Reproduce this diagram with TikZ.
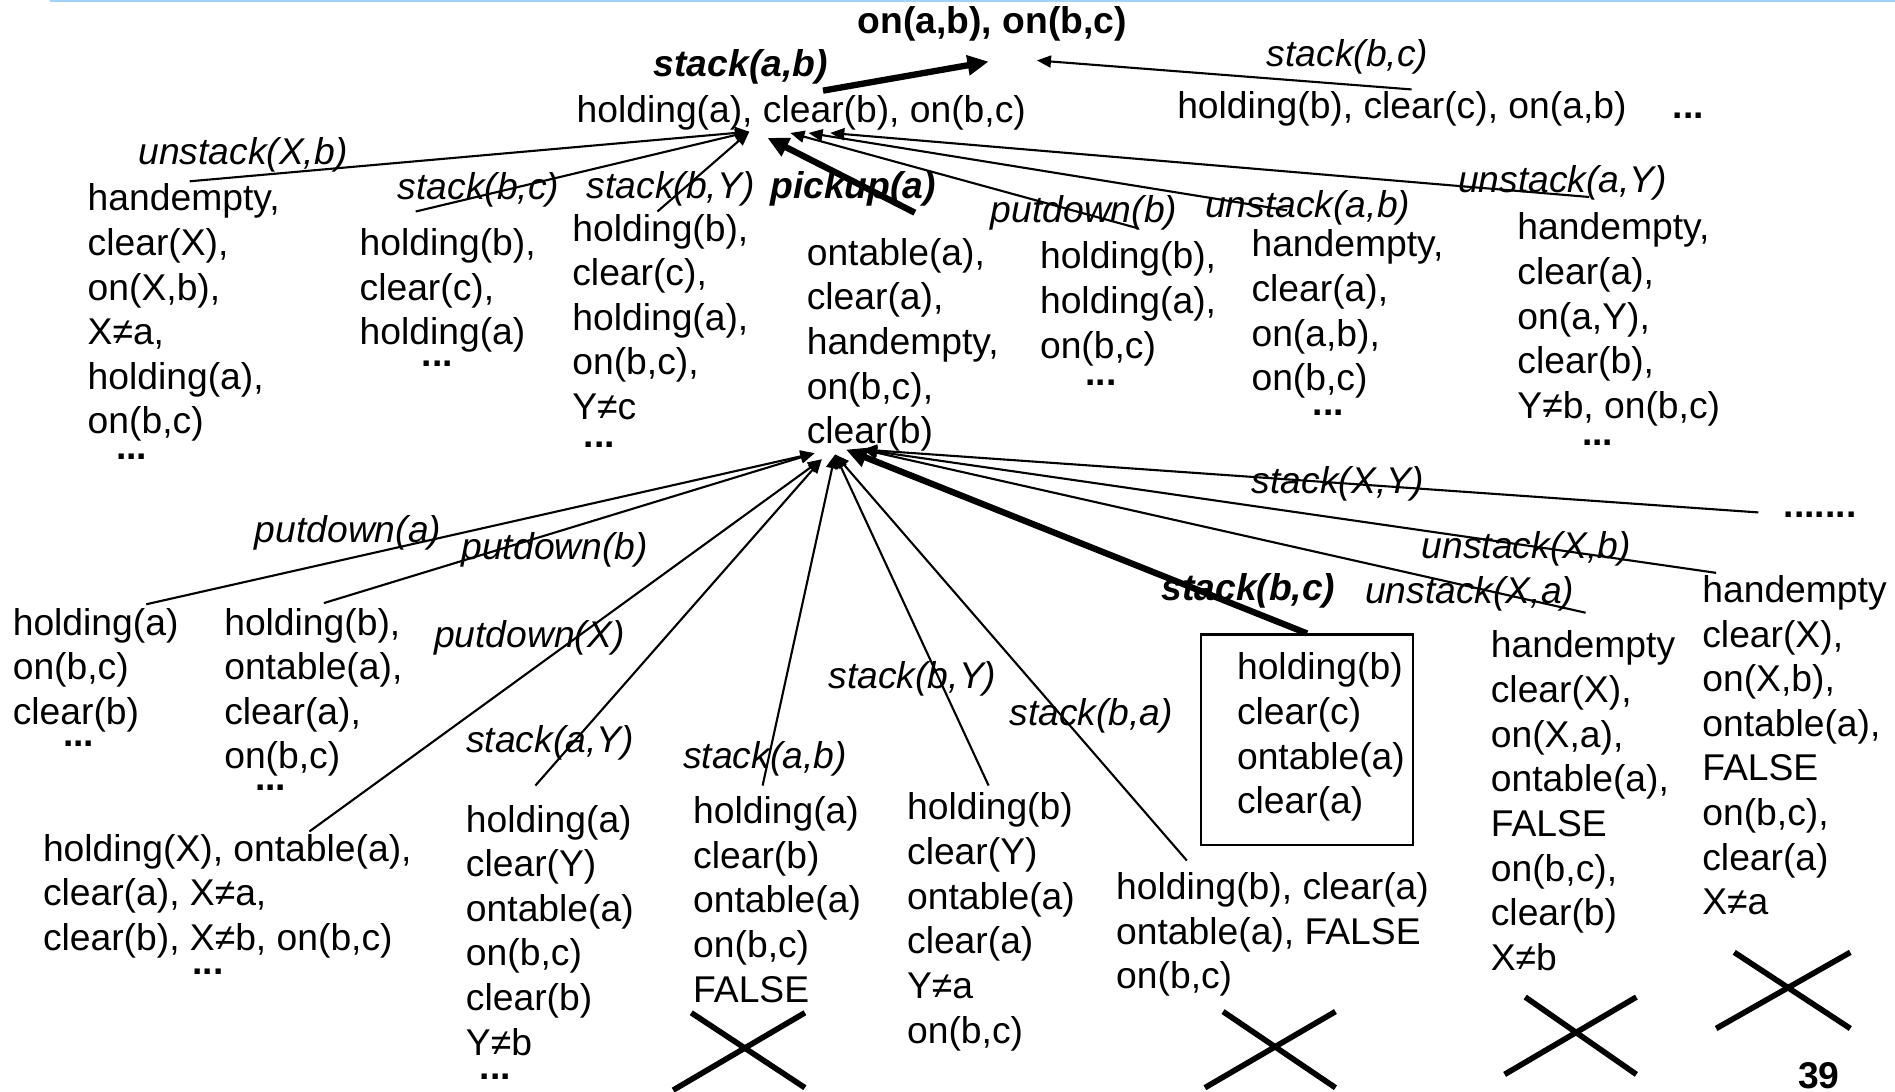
\documentclass[tikz,border=0pt]{standalone}
\usepackage{fontspec}
\setmainfont{Liberation Sans}
\usetikzlibrary{arrows.meta}
\definecolor{rulecol}{RGB}{160,210,250}
\newcommand{\txtsize}{\fontsize{10.6}{12.7}\selectfont}
\tikzset{
  state/.style={anchor=north west, align=left, inner sep=0pt},
  act/.style={inner sep=0pt, font=\txtsize\itshape},
  bact/.style={inner sep=0pt, font=\txtsize\bfseries\itshape},
  more/.style={anchor=base, inner sep=0pt, font=\txtsize\bfseries},
  link/.style={line width=0.6pt, -{Triangle[length=4pt,width=3.4pt]}},
  blink/.style={line width=1.8pt, -{Triangle[length=6pt,width=5.5pt]}},
  nogo/.style={line width=1.6pt}
}
\begin{document}
\begin{tikzpicture}[x=0.012086cm, y=-0.012086cm, every node/.style={font=\txtsize}]
\useasboundingbox (0,0) rectangle (1568,903);
\draw [rulecol, line width=0.6pt] (41,0.6) -- (1568,0.6);

\node [inner sep=0pt, font=\txtsize\bfseries] (goal) at (821,20) {on(a,b), on(b,c)};
\node [inner sep=0pt] (r1) at (663,93) {holding(a), clear(b), on(b,c)};
\node [inner sep=0pt] (r2) at (1160,90) {holding(b), clear(c), on(a,b)};
\node [more] (r3) at (1397,98) {...};
\node [bact] (a0) at (613,55) {stack(a,b)};
\node [act] (a00) at (1115,47) {stack(b,c)};

\coordinate (g1) at (818,51);
\coordinate (g2) at (858,50);
\coordinate (f1) at (681,75);
\coordinate (f2) at (1168,74);
\draw [blink] (f1) -- (g1);
\draw [link] (f2) -- (g2);

\node [state] (v1) at (72,151.5) {handempty,\\clear(X),\\on(X,b),\\X≠a,\\holding(a),\\on(b,c)};
\node [state] (v2) at (297,188.5) {holding(b),\\clear(c),\\holding(a)};
\node [state] (v3) at (473,176.5) {holding(b),\\clear(c),\\holding(a),\\on(b,c),\\Y≠c};
\node [state] (v4) at (667,196.5) {ontable(a),\\clear(a),\\handempty,\\on(b,c),\\clear(b)};
\node [state] (v5) at (860,199.5) {holding(b),\\holding(a),\\on(b,c)};
\node [state] (v6) at (1035,189.5) {handempty,\\clear(a),\\on(a,b),\\on(b,c)};
\node [state] (v7) at (1255,175.5) {handempty,\\clear(a),\\on(a,Y),\\clear(b),\\Y≠b, on(b,c)};
\node [more] (m1) at (109,380) {...};
\node [more] (m2) at (362,303) {...};
\node [more] (m3) at (496,370) {...};
\node [more] (m5) at (911,319) {...};
\node [more] (m6) at (1099,344) {...};
\node [more] (m7) at (1322,369) {...};

\node [act] (a1) at (201,128) {unstack(X,b)};
\node [act] (a2) at (396,157) {stack(b,c)};
\node [act] (a3) at (555,156) {stack(b,Y)};
\node [bact] (a4) at (706,156) {pickup(a)};
\node [act] (a5) at (897,176) {putdown(b)};
\node [act] (a6) at (1082,172) {unstack(a,b)};
\node [act] (a7) at (1293,151) {unstack(a,Y)};

\coordinate (t1) at (620,109);
\coordinate (t2) at (635,114);
\coordinate (t3) at (654,110);
\coordinate (t4) at (669,110);
\coordinate (t5) at (687,110);
\coordinate (e1) at (157,150);
\coordinate (e2) at (344,175);
\coordinate (e3) at (544,175);
\coordinate (e4) at (757,176);
\coordinate (e5) at (942,189);
\coordinate (e6) at (1065,174);
\coordinate (e7) at (1315,163);
\draw [link] (e1) -- (t1);
\draw [link] (e2) -- (t1);
\draw [link] (e3) -- (t1);
\draw [blink] (e4) -- (t2);
\draw [link] (e5) -- (t3);
\draw [link] (e6) -- (t4);
\draw [link] (e7) -- (t5);

\node [state] (w1) at (10,502.5) {holding(a)\\on(b,c)\\clear(b)};
\node [state] (w2) at (185,502.5) {holding(b),\\ontable(a),\\clear(a),\\on(b,c)};
\node [state] (w3) at (35,689.5) {holding(X), ontable(a),\\clear(a), X≠a,\\clear(b), X≠b, on(b,c)};
\node [state] (w4) at (385,665.5) {holding(a)\\clear(Y)\\ontable(a)\\on(b,c)\\clear(b)\\Y≠b};
\node [state] (w5) at (573,658.5) {holding(a)\\clear(b)\\ontable(a)\\on(b,c)\\FALSE};
\node [state] (w6) at (750,655.5) {holding(b)\\clear(Y)\\ontable(a)\\clear(a)\\Y≠a\\on(b,c)};
\node [draw, line width=0.6pt, inner sep=0pt, minimum width=2.115cm, minimum height=2.103cm] (box) at (1081.5,612) {};
\node [state] (w7) at (1023,539.5) {holding(b)\\clear(c)\\ontable(a)\\clear(a)};
\node [state] (w8) at (923,721.5) {holding(b), clear(a)\\ontable(a), FALSE\\on(b,c)};
\node [state] (w9) at (1233,521.5) {handempty\\clear(X),\\on(X,a),\\ontable(a),\\FALSE\\on(b,c),\\clear(b)\\X≠b};
\node [state] (w10) at (1408,475.5) {handempty\\clear(X),\\on(X,b),\\ontable(a),\\FALSE\\on(b,c),\\clear(a)\\X≠a};
\node [more] (n1) at (65,618) {...};
\node [more] (n2) at (224,654) {...};
\node [more] (n3) at (172,806) {...};
\node [more] (n4) at (410,893) {...};
\node [more] (n5) at (1506,428) {.......};

\node [act] (b1) at (288,441) {putdown(a)};
\node [act] (b2) at (459,455) {putdown(b)};
\node [act] (b3) at (438,528) {putdown(X)};
\node [act] (b4) at (455,615) {stack(a,Y)};
\node [act] (b5) at (633,628) {stack(a,b)};
\node [act] (b6) at (755,562) {stack(b,Y)};
\node [act] (b7) at (903,592) {stack(b,a)};
\node [bact] (b8) at (1033,489) {stack(b,c)};
\node [act] (b9) at (1216,491) {unstack(X,a)};
\node [act] (b10) at (1263,454) {unstack(X,b)};
\node [act] (b11) at (1107,400) {stack(X,Y)};

\coordinate (u1) at (674,375);
\coordinate (u2) at (680,380);
\coordinate (u3) at (691,376);
\coordinate (u4) at (700,372);
\coordinate (u5) at (714,372);
\coordinate (d1) at (121,500);
\coordinate (d2) at (268,499);
\coordinate (d3) at (256,688);
\coordinate (d4) at (443,650);
\coordinate (d5) at (631,650);
\coordinate (d6) at (818,650);
\coordinate (d7) at (982,712);
\coordinate (d9) at (1312,507);
\coordinate (d10) at (1420,474);
\coordinate (d11) at (1455,424);
\draw [link] (d1) -- (u1);
\draw [link] (d2) -- (u1);
\draw [link] (d3) -- (u2);
\draw [link] (d4) -- (u2);
\draw [link] (d5) -- (u3);
\draw [link] (d6) -- (u3);
\draw [link] (d7) -- (u3);
\draw [blink] (box.north) -- (u4);
\draw [link] (d9) -- (u5);
\draw [link] (d10) -- (u5);
\draw [link] (d11) -- (u5);

\draw [nogo] (572,838) -- (666,900);
\draw [nogo] (666,838) -- (557,902);
\draw [nogo] (1012,837) -- (1105,900);
\draw [nogo] (1105,837) -- (997,900);
\draw [nogo] (1262,825) -- (1354,889);
\draw [nogo] (1354,825) -- (1245,889);
\draw [nogo] (1435,788) -- (1531,851);
\draw [nogo] (1531,788) -- (1420,851);

\node [more, font=\txtsize\bfseries] (pg) at (1505,901) {39};
\end{tikzpicture}
\end{document}
